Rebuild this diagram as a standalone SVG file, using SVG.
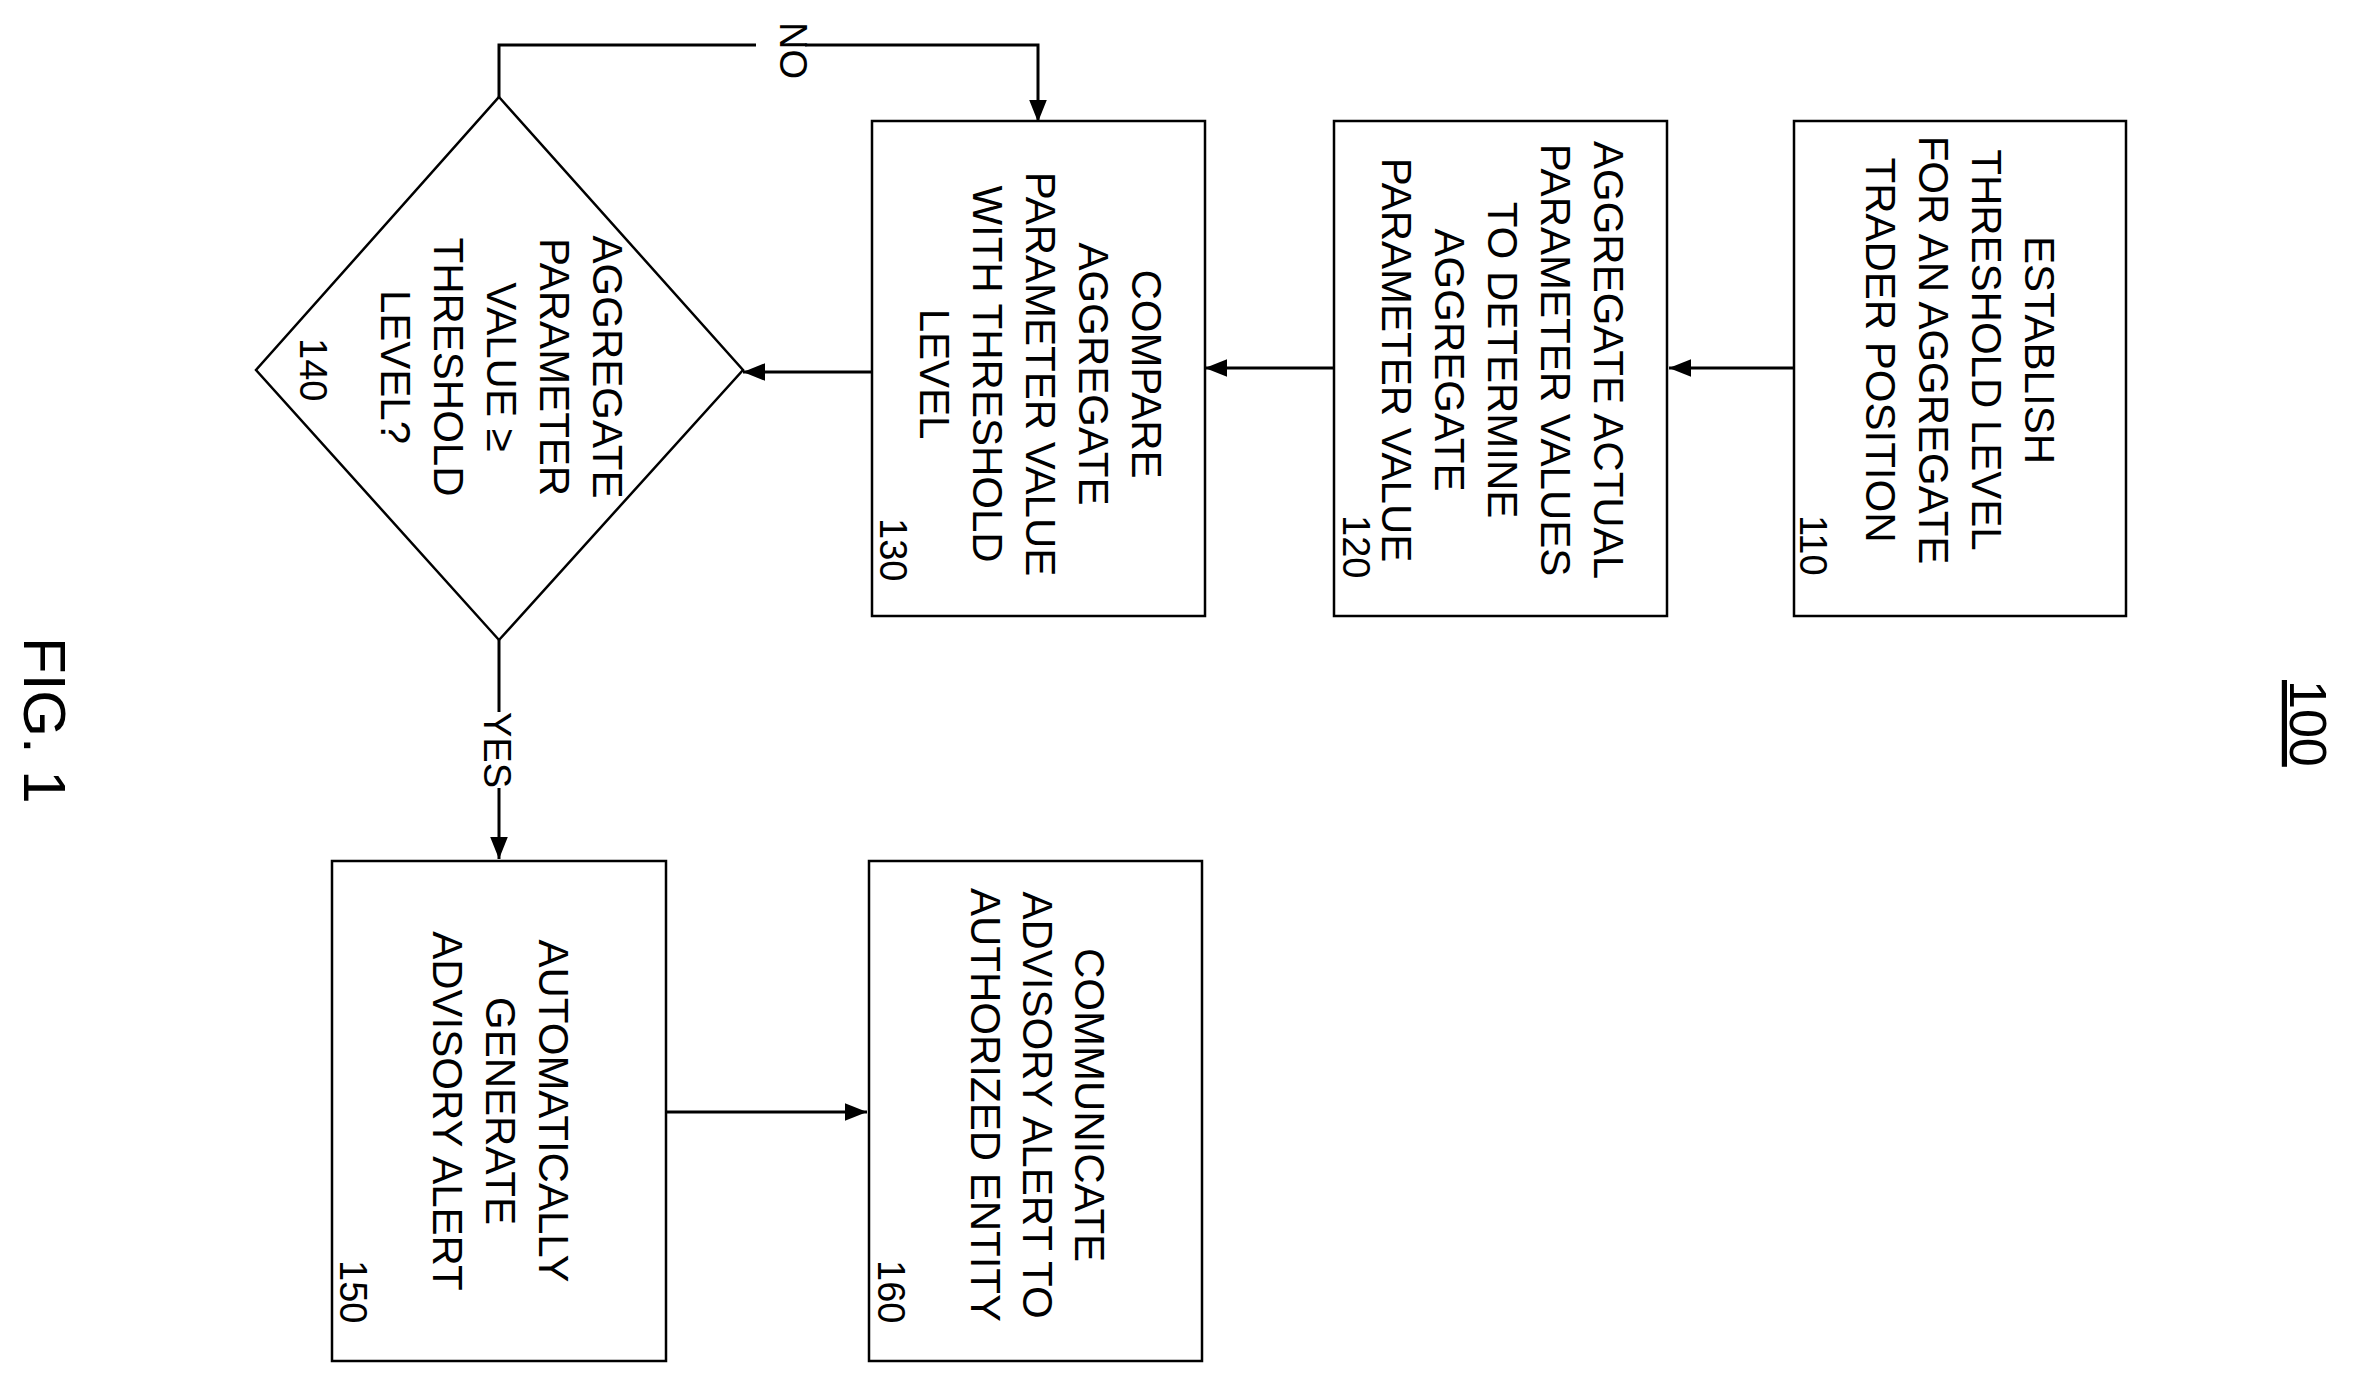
<svg xmlns="http://www.w3.org/2000/svg" width="2360" height="1383" viewBox="0 0 2360 1383">
<style>
.b{fill:#fff;stroke:#000;stroke-width:2.5}
.t{font-family:"Liberation Sans",Arial,sans-serif;font-size:42px;text-anchor:middle;fill:#000}
.n{font-family:"Liberation Sans",Arial,sans-serif;font-size:38px;fill:#000}
.c{fill:none;stroke:#000;stroke-width:3}
</style>
<defs><marker id="a" viewBox="0 0 10 10" refX="10" refY="5" markerWidth="8" markerHeight="8" markerUnits="userSpaceOnUse" orient="auto"><path d="M0,0L10,5L0,10z" fill="#000"/></marker>
<marker id="ar" viewBox="0 0 10 10" refX="10" refY="5" markerWidth="22" markerHeight="22" markerUnits="userSpaceOnUse" orient="auto"><path d="M0,1L10,5L0,9z" fill="#000"/></marker></defs>
<rect width="2360" height="1383" fill="#fff"/>
<g id="connectors">
<path class="c" d="M1794,368H1669" marker-end="url(#ar)"/>
<path class="c" d="M1334,368H1205" marker-end="url(#ar)"/>
<path class="c" d="M872,372H743" marker-end="url(#ar)"/>
<path class="c" d="M499,97V45H756M805,45H1038V122" marker-end="url(#ar)"/>
<path class="c" d="M499,640V712M499,788V859" marker-end="url(#ar)"/>
<path class="c" d="M666,1112H867" marker-end="url(#ar)"/>
<text class="n" transform="translate(780,22) rotate(90)">NO</text>
<text class="n" transform="translate(484,712) rotate(90)">YES</text>
</g>
<g id="n110"><rect class="b" x="1794" y="121" width="332" height="495"/>
<text class="t" transform="translate(1960,350) rotate(90)"><tspan x="0" y="-65">ESTABLISH</tspan><tspan x="0" y="-12">THRESHOLD LEVEL</tspan><tspan x="0" y="41">FOR AN AGGREGATE</tspan><tspan x="0" y="94">TRADER POSITION</tspan></text>
<text class="n" transform="translate(1800,515) rotate(90)">110</text></g>
<g id="n120"><rect class="b" x="1334" y="121" width="333" height="495"/>
<text class="t" transform="translate(1503,360) rotate(90)"><tspan x="0" y="-91">AGGREGATE ACTUAL</tspan><tspan x="0" y="-38">PARAMETER VALUES</tspan><tspan x="0" y="15">TO DETERMINE</tspan><tspan x="0" y="68">AGGREGATE</tspan><tspan x="0" y="121">PARAMETER VALUE</tspan></text>
<text class="n" transform="translate(1343,515) rotate(90)">120</text></g>
<g id="n130"><rect class="b" x="872" y="121" width="333" height="495"/>
<text class="t" transform="translate(1042,374) rotate(90)"><tspan x="0" y="-90">COMPARE</tspan><tspan x="0" y="-37">AGGREGATE</tspan><tspan x="0" y="16">PARAMETER VALUE</tspan><tspan x="0" y="69">WITH THRESHOLD</tspan><tspan x="0" y="122">LEVEL</tspan></text>
<text class="n" transform="translate(880,518) rotate(90)">130</text></g>
<g id="n140"><path class="b" d="M499,97L743,370L499,640L256,370Z"/>
<text class="t" transform="translate(501,367) rotate(90)"><tspan x="0" y="-92">AGGREGATE</tspan><tspan x="0" y="-39">PARAMETER</tspan><tspan x="0" y="14">VALUE ≥</tspan><tspan x="0" y="67">THRESHOLD</tspan><tspan x="0" y="120">LEVEL?</tspan></text>
<text class="n" transform="translate(300,338) rotate(90)">140</text></g>
<g id="n150"><rect class="b" x="332" y="861" width="334" height="500"/>
<text class="t" transform="translate(501,1111) rotate(90)"><tspan x="0" y="-38">AUTOMATICALLY</tspan><tspan x="0" y="15">GENERATE</tspan><tspan x="0" y="68">ADVISORY ALERT</tspan></text>
<text class="n" transform="translate(340,1260) rotate(90)">150</text></g>
<g id="n160"><rect class="b" x="869" y="861" width="333" height="500"/>
<text class="t" transform="translate(1039,1105) rotate(90)"><tspan x="0" y="-36">COMMUNICATE</tspan><tspan x="0" y="16">ADVISORY ALERT TO</tspan><tspan x="0" y="68">AUTHORIZED ENTITY</tspan></text>
<text class="n" transform="translate(878,1260) rotate(90)">160</text></g>
<text style="font-family:'Liberation Sans',Arial,sans-serif;font-size:52px;text-decoration:underline" transform="translate(2290,680) rotate(90)">100</text>
<text style="font-family:'Liberation Sans',Arial,sans-serif;font-size:60px" transform="translate(24,637) rotate(90)">FIG. 1</text>
</svg>
